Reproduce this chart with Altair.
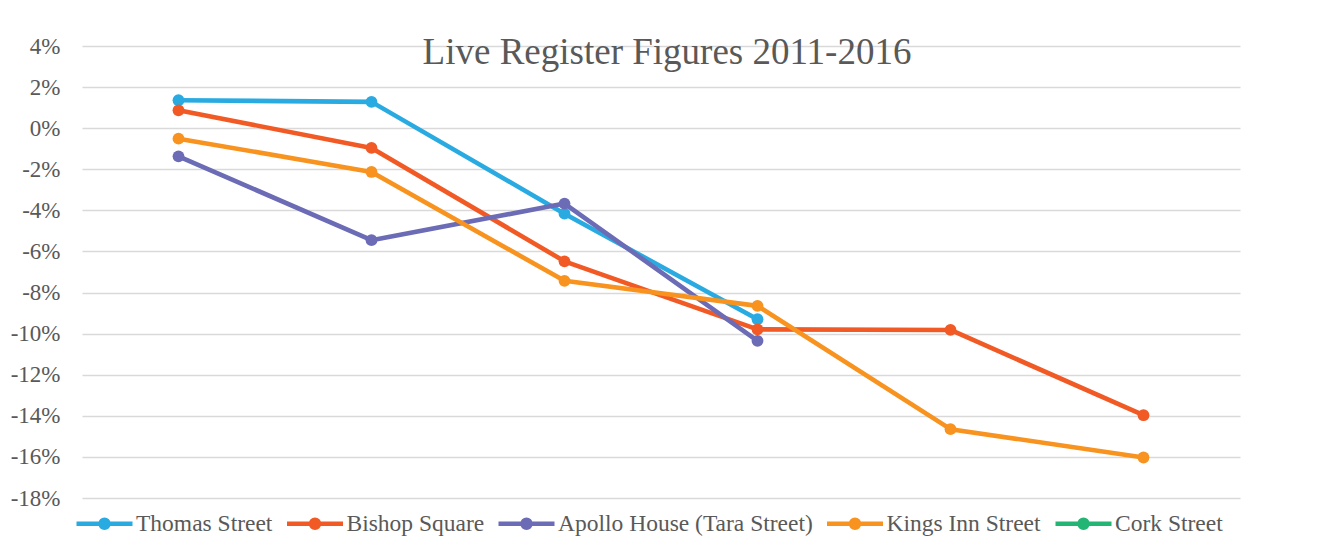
import altair as alt
import pandas as pd

periods = ["2011", "2012", "2013", "2014", "2015", "2016"]
series_names = ["Thomas Street", "Bishop Square", "Apollo House (Tara Street)",
                "Kings Inn Street", "Cork Street"]
series_colors = ["#29ABE2", "#F15A24", "#6B6BB6", "#F7931E", "#22B573"]

thomas = [1.36, 1.28, -4.16, -9.30, None, None]
bishop = [0.87, -0.96, -6.48, -9.79, -9.82, -13.97]
apollo = [-1.37, -5.45, -3.67, -10.35, None, None]
kings = [-0.51, -2.13, -7.43, -8.65, -14.65, -16.03]
cork = [None, None, None, None, None, None]

y_ticks = [4, 2, 0, -2, -4, -6, -8, -10, -12, -14, -16, -18]

rows = []
for name, vals in zip(series_names, [thomas, bishop, apollo, kings, cork]):
    for p, v in zip(periods, vals):
        if v is not None:
            rows.append({"period": p, "series": name, "value": v})
df = pd.DataFrame(rows)

FONT = "Liberation Serif"
GREY = "#595959"
# legend glyph: a line with a dot in the middle (dot built from two stroked rings)
LEG_PATH = ("M-1,0L1,0"
            "M-0.054,0A0.054,0.054,0,1,1,0.054,0A0.054,0.054,0,1,1,-0.054,0"
            "M-0.143,0A0.143,0.143,0,1,1,0.143,0A0.143,0.143,0,1,1,-0.143,0")

x_enc = alt.X("period:O", sort=periods,
              scale=alt.Scale(type="point", domain=periods, padding=0.5),
              axis=alt.Axis(labels=False, ticks=False, domain=False, title=None, grid=False))
y_enc = alt.Y("value:Q",
              scale=alt.Scale(domain=[-18, 4], nice=False, zero=False),
              axis=alt.Axis(values=y_ticks, labelExpr="datum.value + '%'", title=None,
                            ticks=False, domain=False, grid=True, labelPadding=22,
                            labelFont=FONT, labelFontSize=23, labelColor=GREY,
                            gridColor="#D9D9D9", gridWidth=1.4))

color_scale = alt.Scale(domain=series_names, range=series_colors)
base = alt.Chart(df)

lines = base.mark_line(strokeWidth=4.6, strokeJoin="round", strokeCap="round").encode(
    x=x_enc, y=y_enc,
    stroke=alt.Stroke("series:N", sort=series_names, scale=color_scale,
                      legend=alt.Legend(title=None)),
)
points = base.mark_circle(size=140, opacity=1).encode(
    x=x_enc, y=y_enc,
    fill=alt.Fill("series:N", sort=series_names, scale=color_scale, legend=None),
)

chart = alt.layer(lines, points).properties(
    width=1158, height=452,
    autosize=alt.AutoSizeParams(type="none"),
    padding={"left": 74, "top": 38, "right": 80, "bottom": 40},
    title=alt.TitleParams("Live Register Figures 2011-2016", font=FONT, fontSize=37,
                          color=GREY, fontWeight="normal", anchor="middle",
                          offset=-37, dx=6),
).configure_view(stroke=None).configure_legend(
    orient="none", legendX=-8, legendY=447, direction="horizontal",
    symbolType=LEG_PATH, symbolSize=3136, symbolStrokeWidth=4.5,
    labelFont=FONT, labelFontSize=23.5, labelColor=GREY, labelOffset=1,
    columnPadding=4.5, labelLimit=400,
)

chart.save("out.html", embed_options={"renderer": "svg", "actions": False})
